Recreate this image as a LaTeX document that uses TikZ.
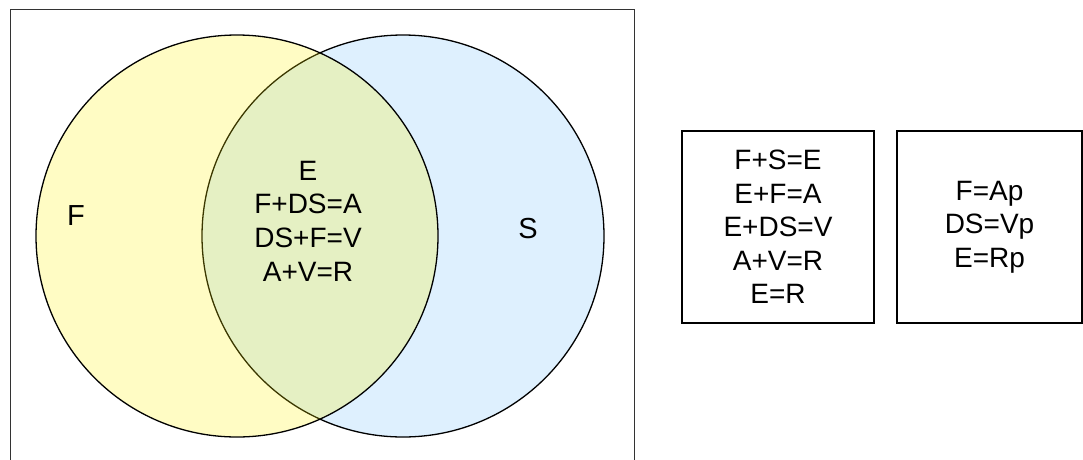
\documentclass[tikz,border=0pt]{standalone}
\usepackage{fontspec}
\setmainfont{Liberation Sans}
\definecolor{setblue}{HTML}{DEF0FE}
\definecolor{frame}{HTML}{333333}
\tikzset{
  venn/.style={circle, draw=black, line width=1.3pt, inner sep=0pt, minimum size=402pt},
  eqbox/.style={draw=black, line width=1.2pt, align=center, inner sep=0pt,
    font=\fontsize{28}{33.6}\selectfont},
  eqtext/.style={align=center, inner sep=0pt, font=\fontsize{28}{33.6}\selectfont},
  setlabel/.style={inner sep=0pt, font=\fontsize{29}{34}\selectfont}
}
\begin{document}
\begin{tikzpicture}[x=1pt,y=-1pt]
\useasboundingbox (0,0) rectangle (1083,459);
\clip (0,0) rectangle (1083,459);
\node[draw=frame, line width=1.2pt, minimum width=624pt, minimum height=470pt, inner sep=0pt, anchor=north west] (frame) at (9.5,8.5) {};
\node[venn, fill=setblue] (S) at (403,236) {};
\node[venn, fill=yellow, fill opacity=0.23, text opacity=1] (F) at (237,236) {};
\node[setlabel] (Flab) at (76,216) {F};
\node[setlabel] (Slab) at (528,229) {S};
\node[eqtext] (mid) at (308,221) {E\\F+DS=A\\DS+F=V\\A+V=R};
\node[eqbox, minimum width=192pt, minimum height=192pt] (rules) at (778,227) {F+S=E\\E+F=A\\E+DS=V\\A+V=R\\E=R};
\node[eqbox, minimum width=185pt, minimum height=192pt] (parts) at (989.5,227) {F=Ap\\DS=Vp\\E=Rp};
\end{tikzpicture}
\end{document}
